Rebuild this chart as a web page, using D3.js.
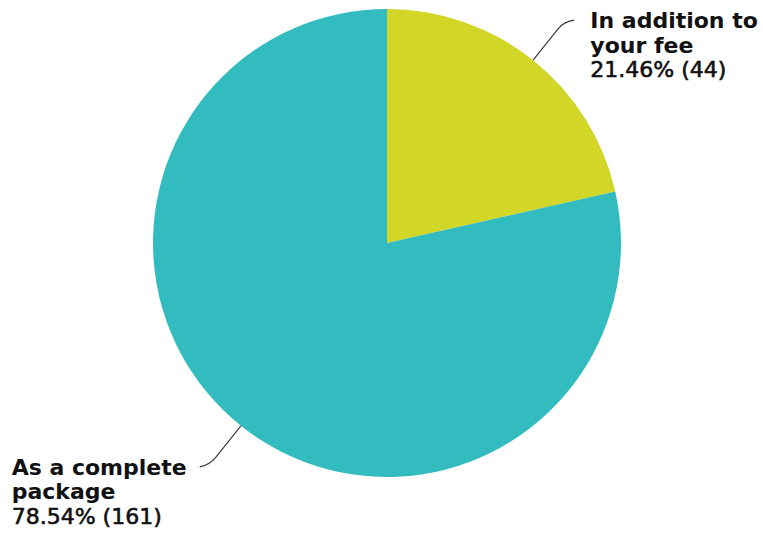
<!DOCTYPE html>
<html>
<head>
<meta charset="utf-8">
<script src="https://cdn.jsdelivr.net/npm/d3@7"></script>
<style>
  html, body { margin: 0; padding: 0; background: #ffffff; }
  svg { display: block; }
  text { font-family: "DejaVu Sans", sans-serif; font-size: 22px; fill: #111; }
</style>
</head>
<body>
<svg id="chart" width="763" height="534"></svg>
<script>
const categories = ["In addition to your fee", "As a complete package"];
const labelLines = [["In addition to", "your fee"], ["As a complete", "package"]];
const counts = [44, 161];
const colors = ["#D1D627", "#33BCBF"];

const W = 763, H = 534;
const cx = 387, cy = 243, R = 234;
const svg = d3.select("#chart");
const g = svg.append("g").attr("transform", `translate(${cx},${cy})`);

const total = d3.sum(counts);
const data = categories.map((c, i) => ({ name: c, lines: labelLines[i], value: counts[i], color: colors[i] }));
const pie = d3.pie().sort(null).value(d => d.value).startAngle(0).endAngle(2 * Math.PI);
const arcs = pie(data);
const arc = d3.arc().innerRadius(0).outerRadius(R);

g.selectAll("path.slice").data(arcs).enter().append("path")
  .attr("class", "slice")
  .attr("d", arc)
  .attr("fill", d => d.data.color);

// leader lines and labels
arcs.forEach(a => {
  const mid = (a.startAngle + a.endAngle) / 2;
  const sx = Math.sin(mid), sy = -Math.cos(mid);
  const right = sx >= 0;
  const p1 = [R * sx, R * sy];
  const rA = R + 40, rE = R + 50;
  const pA = [rA * sx, rA * sy];
  const pE = [rE * sx, rE * sy];
  const dir = right ? 1 : -1;
  const p3 = [pE[0] + dir * 10, pE[1] + (right ? -1 : 2)];
  g.append("path")
    .attr("d", `M${p1[0]},${p1[1]} L${pA[0]},${pA[1]} Q${pE[0]},${pE[1]} ${p3[0]},${p3[1]}`)
    .attr("fill", "none")
    .attr("stroke", "#333")
    .attr("stroke-width", 1.1);

  const tx = p3[0] + dir * (right ? 16 : 13);
  const t = g.append("text")
    .attr("x", tx)
    .attr("y", p3[1] + 8)
    .attr("text-anchor", right ? "start" : "end");
  const pct = (a.data.value / total * 100).toFixed(2) + "% (" + a.data.value + ")";
  const lines = a.data.lines.map(l => ({ s: l, bold: true })).concat([{ s: pct, bold: false }]);
  t.selectAll("tspan").data(lines).enter().append("tspan")
    .attr("x", tx)
    .attr("dy", (d, i) => i === 0 ? 0 : 24.5)
    .attr("font-weight", d => d.bold ? "bold" : "normal")
    .attr("stroke", d => d.bold ? null : "#111")
    .attr("stroke-width", d => d.bold ? null : 0.6)
    .text(d => d.s);
  if (!right) {
    const w = t.select("tspan").node().getComputedTextLength();
    t.attr("text-anchor", "start");
    t.selectAll("tspan").attr("x", tx - w);
  }
});
</script>
</body>
</html>
